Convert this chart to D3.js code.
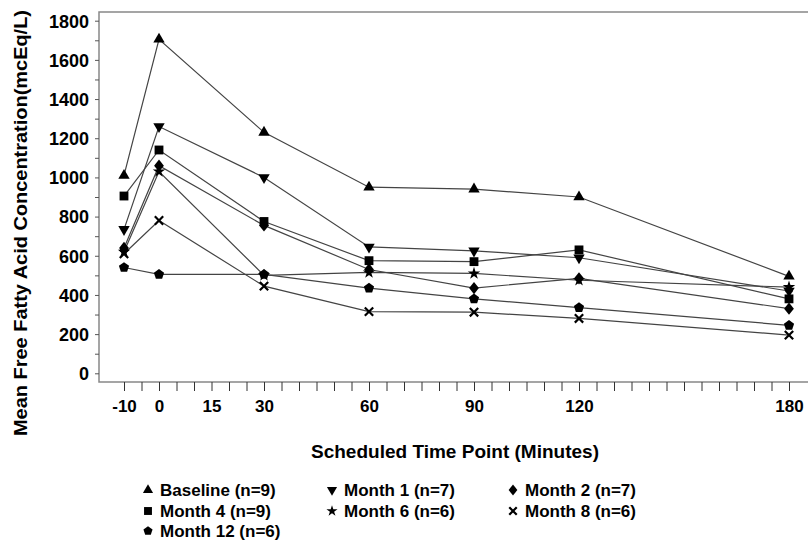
<!DOCTYPE html>
<html>
<meta charset="utf-8">
<style>
  body { margin: 0; background: #fff; }
  svg text { font-family: "Liberation Sans", Arial, sans-serif; font-weight: bold; fill: #000; }
</style>
<body>
<script src="https://d3js.org/d3.v7.min.js"></script>
<script>
// time points (minutes) and tick labels
var times = [-10, 0, 30, 60, 90, 120, 180];
var xTickLabels = [-10, 0, 15, 30, 60, 90, 120, 180];
var yTickLabels = [0, 200, 400, 600, 800, 1000, 1200, 1400, 1600, 1800];

// mean free fatty acid (mcEq/L)
var baseline = [1010, 1705, 1230, 950, 940, 900, 495];
var month1   = [735, 1260, 1000, 645, 625, 590, 420];
var month2   = [640, 1060, 755, 530, 435, 485, 330];
var month4   = [905, 1140, 775, 575, 570, 630, 380];
var month6   = [620, 1030, 500, 515, 510, 475, 440];
var month8   = [610, 780, 445, 315, 312, 280, 195];
var month12  = [540, 505, 505, 435, 380, 335, 245];

var seriesNames = ["Baseline (n=9)", "Month 1 (n=7)", "Month 2 (n=7)",
                   "Month 4 (n=9)", "Month 6 (n=6)", "Month 8 (n=6)", "Month 12 (n=6)"];
var seriesValues = [baseline, month1, month2, month4, month6, month8, month12];
var seriesMarkers = ["up", "down", "diamond", "square", "star", "cross", "pentagon"];

var width = 808, height = 540;

var svg = d3.select("body").append("svg")
    .attr("width", width)
    .attr("height", height);

var x = d3.scaleLinear().domain([-10, 180]).range([124, 789]);
var y = d3.scaleLinear().domain([0, 1800]).range([373.3, 20.7]);

var plotLeft = 99, plotTop = 12, plotBottom = 382;

// custom symbol types
var pentagon = {
  draw: function(ctx, size) {
    var r = Math.sqrt(size / 2.378);
    for (var i = 0; i < 5; i++) {
      var a = -Math.PI / 2 + i * 2 * Math.PI / 5;
      if (i === 0) ctx.moveTo(r * Math.cos(a), r * Math.sin(a));
      else ctx.lineTo(r * Math.cos(a), r * Math.sin(a));
    }
    ctx.closePath();
  }
};
var diamond = {
  draw: function(ctx, size) {
    var h = Math.sqrt(size / 1.6);
    var w = h * 0.8;
    ctx.moveTo(0, -h); ctx.lineTo(w, 0); ctx.lineTo(0, h); ctx.lineTo(-w, 0);
    ctx.closePath();
  }
};
var cross = {
  draw: function(ctx, size) {
    var r = Math.sqrt(size) / 2;
    ctx.moveTo(-r, -r); ctx.lineTo(r, r);
    ctx.moveTo(r, -r); ctx.lineTo(-r, r);
  }
};

function markerPath(kind, scale) {
  var s = scale || 1;
  if (kind === "up" || kind === "down") return d3.symbol(d3.symbolTriangle, 56 * s)();
  if (kind === "square") return d3.symbol(d3.symbolSquare, 78 * s)();
  if (kind === "diamond") return d3.symbol(diamond, 60 * s)();
  if (kind === "star") return d3.symbol(d3.symbolStar, 48 * s)();
  if (kind === "pentagon") return d3.symbol(pentagon, 68 * s)();
  return d3.symbol(cross, 70 * s)();
}

function drawMarker(g, kind, cx, cy, scale) {
  var p = g.append("path")
      .attr("d", markerPath(kind, scale))
      .attr("transform", "translate(" + cx + "," + cy + ")" + (kind === "down" ? " rotate(180)" : ""));
  if (kind === "cross") p.attr("fill", "none").attr("stroke", "#000").attr("stroke-width", 2.2);
  else p.attr("fill", "#000");
}

// frame
svg.append("path")
    .attr("d", "M" + (width + 5) + "," + plotTop + "H" + plotLeft + "V" + plotBottom + "H" + (width + 5))
    .attr("fill", "none")
    .attr("stroke", "#888")
    .attr("stroke-width", 1.5);

// y axis
var yAxis = svg.append("g")
    .attr("transform", "translate(" + plotLeft + ",0)")
    .call(d3.axisLeft(y)
      .tickValues(d3.range(0, 1801, 100))
      .tickSize(4)
      .tickFormat(function(d) { return yTickLabels.indexOf(d) >= 0 ? d : ""; }));
yAxis.select(".domain").remove();
yAxis.selectAll(".tick line").attr("stroke", "#555");
yAxis.selectAll(".tick text")
    .attr("x", -10)
    .attr("dy", "0.35em")
    .style("font-size", "18px");

// x axis
var xAxis = svg.append("g")
    .attr("transform", "translate(0," + plotBottom + ")")
    .call(d3.axisBottom(x)
      .tickValues(d3.range(-10, 181, 5))
      .tickSize(9)
      .tickFormat(function(d) { return xTickLabels.indexOf(d) >= 0 ? d : ""; }));
xAxis.select(".domain").remove();
xAxis.selectAll(".tick line").attr("stroke", "#333");
xAxis.selectAll(".tick text")
    .attr("y", 18)
    .attr("dy", "0.71em")
    .style("font-size", "17px");

// axis titles
svg.append("text")
    .attr("x", 455)
    .attr("y", 458)
    .attr("text-anchor", "middle")
    .attr("textLength", 288)
    .attr("lengthAdjust", "spacingAndGlyphs")
    .style("font-size", "18px")
    .text("Scheduled Time Point (Minutes)");

svg.append("text")
    .attr("transform", "translate(27,223) rotate(-90)")
    .attr("text-anchor", "middle")
    .attr("textLength", 426)
    .attr("lengthAdjust", "spacingAndGlyphs")
    .style("font-size", "18px")
    .text("Mean Free Fatty Acid Concentration(mcEq/L)");

// lines
var line = d3.line()
    .x(function(d, i) { return x(times[i]); })
    .y(function(d) { return y(d); });

var lines = svg.append("g");
seriesValues.forEach(function(vals) {
  lines.append("path")
      .datum(vals)
      .attr("d", line)
      .attr("fill", "none")
      .attr("stroke", "#444")
      .attr("stroke-width", 1.2);
});

// markers
var marks = svg.append("g");
seriesValues.forEach(function(vals, k) {
  vals.forEach(function(v, i) {
    drawMarker(marks, seriesMarkers[k], x(times[i]), y(v));
  });
});

// legend
var legendCols = [148, 332, 513], legendRows = [490, 511, 531];
var legend = svg.append("g");
seriesNames.forEach(function(name, k) {
  var cx = legendCols[k % 3], cy = legendRows[Math.floor(k / 3)];
  drawMarker(legend, seriesMarkers[k], cx, cy, 0.8);
  legend.append("text")
      .attr("x", cx + 12)
      .attr("y", cy + 6)
      .style("font-size", "17px")
      .text(name);
});
</script>
</body>
</html>
